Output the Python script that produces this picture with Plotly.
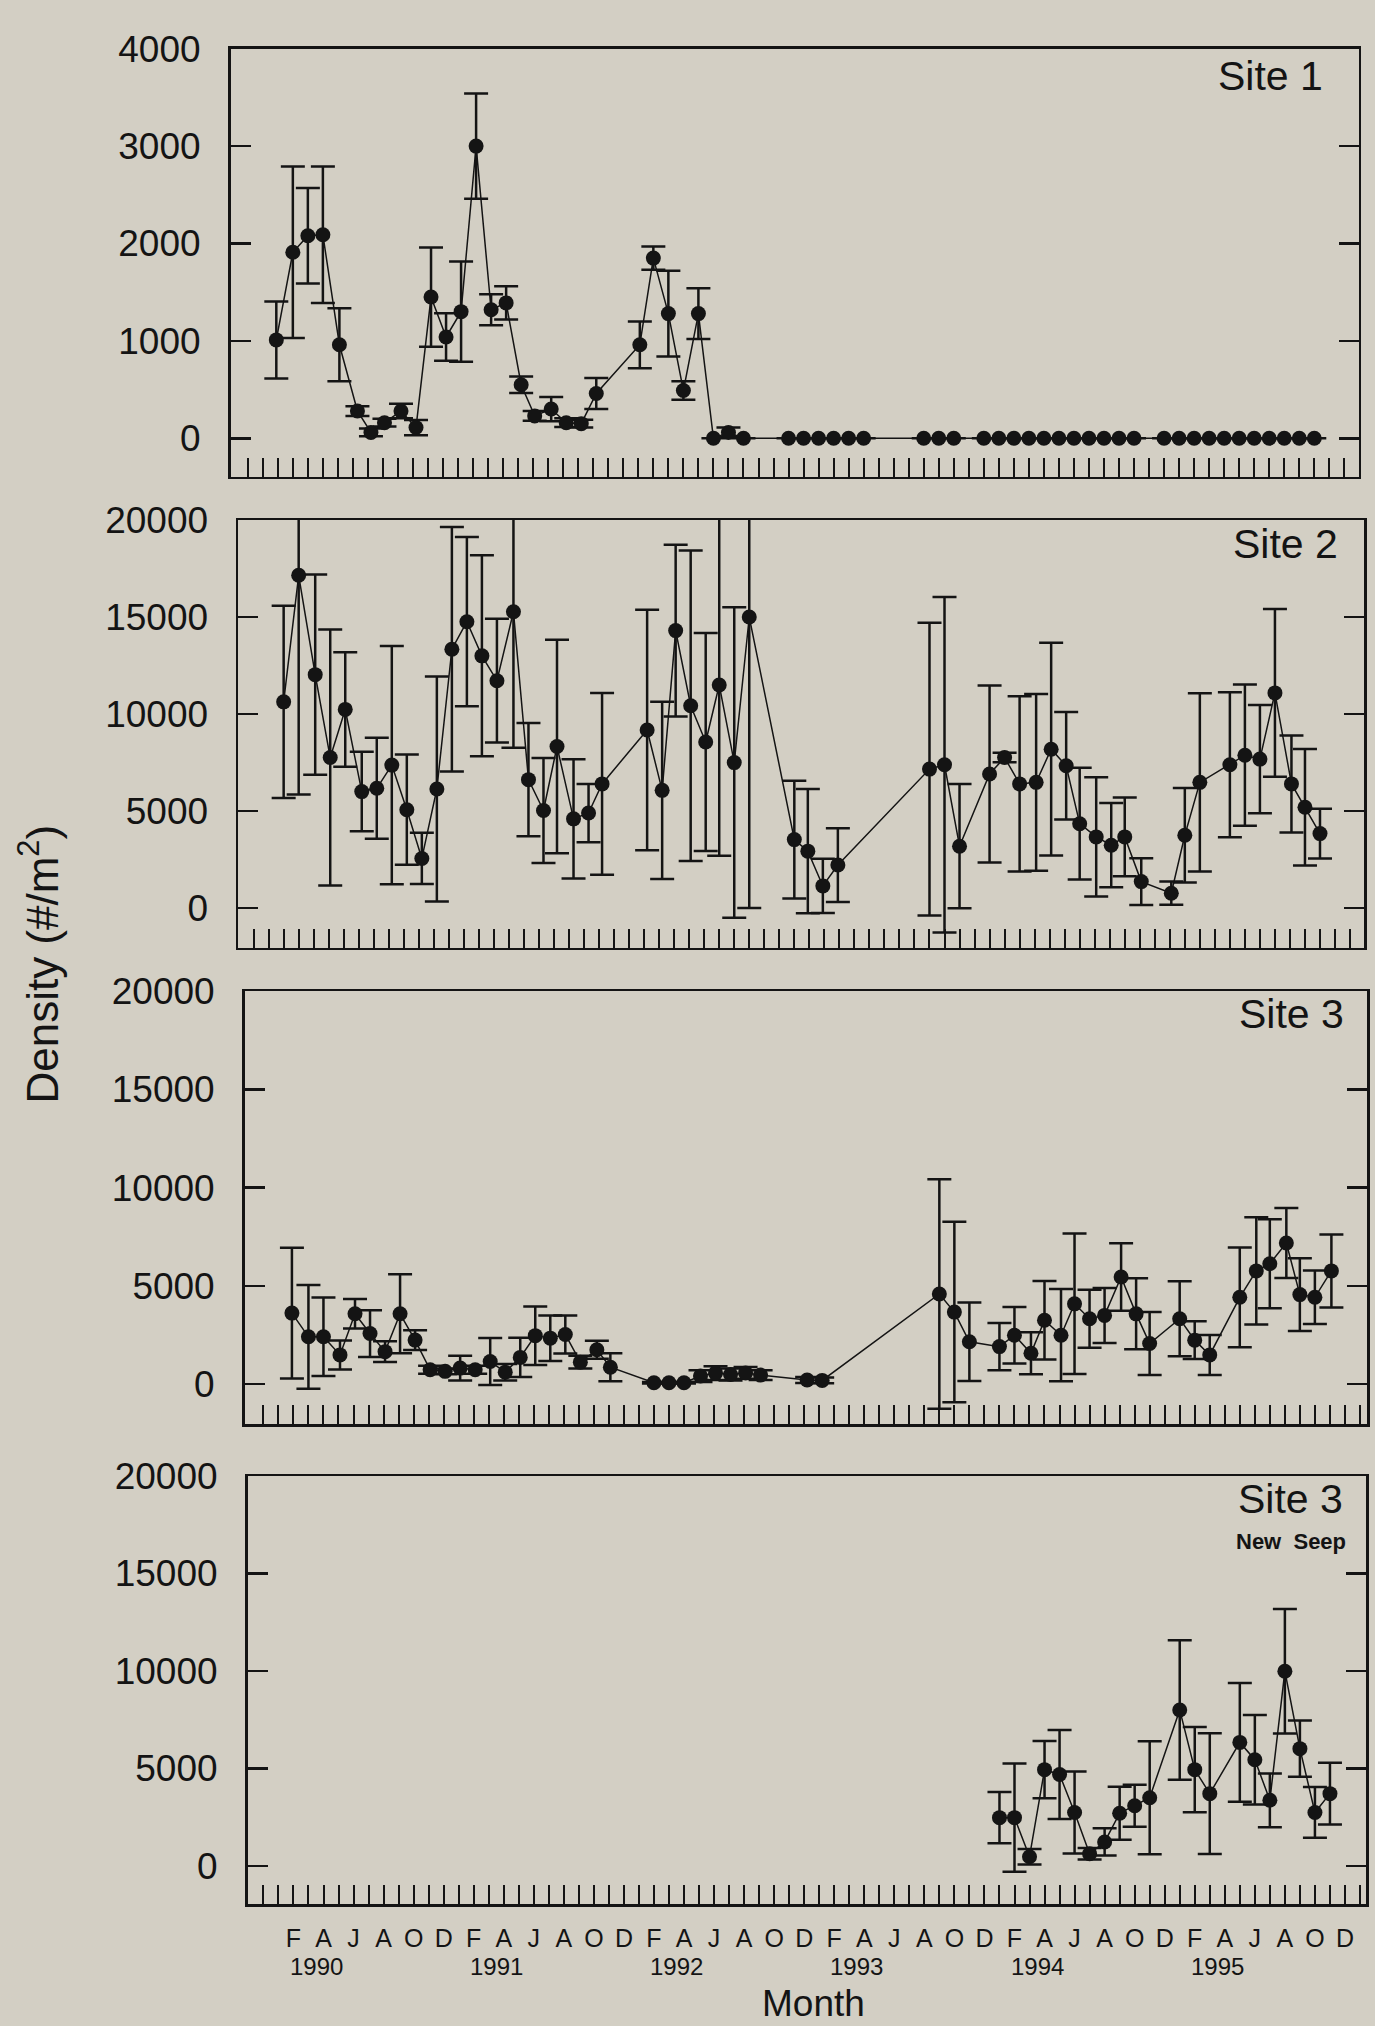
import plotly.graph_objects as go

# x = month index (0 = Jan 1990, 1 = Feb 1990, ...)
s1_month = [0.9, 2.0, 3.0, 4.0, 5.1, 6.3, 7.2, 8.1, 9.2, 10.2, 11.2, 12.2, 13.2, 14.2, 15.2, 16.2,
            17.2, 18.1, 19.2, 20.2, 21.2, 22.2, 25.1, 26.0, 27.0, 28.0, 29.0, 30.0, 31.0, 32.0,
            35, 36, 37, 38, 39, 40, 44, 45, 46,
            48, 49, 50, 51, 52, 53, 54, 55, 56, 57, 58,
            60, 61, 62, 63, 64, 65, 66, 67, 68, 69, 70]
s1_density = [1010, 1910, 2080, 2090, 960, 280, 60, 160, 280, 110, 1450, 1040, 1300, 3000, 1320, 1390,
              550, 230, 300, 160, 150, 460, 960, 1850, 1280, 490, 1280, 0, 60, 0,
              0, 0, 0, 0, 0, 0, 0, 0, 0,
              0, 0, 0, 0, 0, 0, 0, 0, 0, 0, 0,
              0, 0, 0, 0, 0, 0, 0, 0, 0, 0, 0]
s1_se = [395, 880, 490, 700, 375, 50, 40, 40, 75, 78, 510, 245, 515, 540, 160, 170,
         85, 50, 125, 45, 40, 160, 240, 120, 440, 95, 260, 0, 50, 0,
         0, 0, 0, 0, 0, 0, 0, 0, 0,
         0, 0, 0, 0, 0, 0, 0, 0, 0, 0, 0,
         0, 0, 0, 0, 0, 0, 0, 0, 0, 0, 0]

s2_month = [1.0, 2.0, 3.1, 4.1, 5.1, 6.2, 7.2, 8.2, 9.2, 10.2, 11.2, 12.2, 13.2, 14.2, 15.2, 16.3,
            17.3, 18.3, 19.2, 20.3, 21.3, 22.2, 25.2, 26.2, 27.1, 28.1, 29.1, 30.0, 31.0, 32.0,
            35.0, 35.9, 36.9, 37.9, 44.0, 45.0, 46.0,
            48.0, 49.0, 50.0, 51.1, 52.1, 53.1, 54.0, 55.1, 56.1, 57.0, 58.1,
            60.1, 61.0, 62.0, 64.0, 65.0, 66.0, 67.0, 68.1, 69.0, 70.0]
s2_density = [10630, 17150, 12030, 7760, 10240, 6005, 6175, 7370, 5070, 2560, 6140, 13340, 14760, 13000, 11720, 15270,
              6620, 5030, 8330, 4600, 4900, 6400, 9180, 6070, 14300, 10430, 8560, 11500, 7500, 15000,
              3530, 2935, 1143, 2218, 7165, 7387, 3190,
              6910, 7760, 6400, 6480, 8190, 7336, 4350, 3670, 3240, 3670, 1365,
              768, 3753, 6480, 7390, 7880, 7680, 11090, 6400, 5200, 3840]
s2_se = [4950, 11300, 5160, 6600, 2950, 2050, 2600, 6140, 2840, 1320, 5800, 6300, 4360, 5180, 3190, 7000,
         2920, 2700, 5500, 3070, 1500, 4680, 6200, 4570, 4430, 8000, 5620, 8800, 8000, 15000,
         3030, 3200, 1400, 1900, 7540, 8640, 3200,
         4560, 250, 4520, 4550, 5480, 2770, 2880, 3070, 2170, 2030, 1200,
         600, 2430, 4590, 3740, 3640, 2790, 4320, 2500, 3000, 1280]

s3_month = [0.9, 2.0, 3.0, 4.1, 5.1, 6.1, 7.1, 8.1, 9.1, 10.1, 11.1, 12.1, 13.1, 14.1, 15.1, 16.1,
            17.1, 18.1, 19.1, 20.1, 21.2, 22.1, 25.0, 26.0, 27.0, 28.1, 29.1, 30.1, 31.1, 32.1,
            35.2, 36.2, 44.0, 45.0, 46.0,
            48.0, 49.0, 50.1, 51.0, 52.1, 53.0, 54.0, 55.0, 56.1, 57.1, 58.0,
            60.0, 61.0, 62.0, 64.0, 65.1, 66.0, 67.1, 68.0, 69.0, 70.1]
s3_density = [3608, 2400, 2400, 1477, 3574, 2567, 1644, 3574, 2232, 720, 640, 805, 720, 1140, 600, 1350,
              2460, 2330, 2520, 1110, 1740, 850, 60, 60, 60, 400, 550, 480, 560, 450,
              200, 180, 4580, 3660, 2150,
              1900, 2480, 1560, 3240, 2480, 4080, 3320, 3490, 5450, 3570, 2060,
              3320, 2230, 1477, 4413, 5756, 6125, 7180, 4550, 4413, 5756]
s3_se = [3330, 2640, 2000, 740, 750, 1190, 530, 2010, 500, 200, 150, 630, 200, 1200, 420, 1000,
         1490, 1160, 970, 320, 460, 710, 40, 40, 40, 300, 350, 300, 300, 250,
         150, 150, 5850, 4600, 2000,
         1200, 1440, 1070, 2000, 2350, 3580, 1480, 1400, 1720, 1810, 1600,
         1910, 960, 1020, 2540, 2730, 2270, 1780, 1850, 1360, 1860]

s4_month = [48.0, 49.0, 50.0, 51.0, 52.0, 53.0, 54.0, 55.0, 56.0, 57.0, 58.0,
            60.0, 61.0, 62.0, 64.0, 65.0, 66.0, 67.0, 68.0, 69.0, 70.0]
s4_density = [2478, 2478, 473, 4938, 4692, 2743, 624, 1230, 2705, 3084, 3500,
              8003, 4938, 3708, 6338, 5449, 3368, 9990, 6017, 2743, 3708]
s4_se = [1320, 2780, 400, 1470, 2280, 2100, 300, 700, 1360, 1080, 2900,
         3580, 2190, 3100, 3050, 2300, 1380, 3190, 1440, 1300, 1580]

month_letters = ["J", "F", "M", "A", "M", "J", "J", "A", "S", "O", "N", "D"]
years = [1990, 1991, 1992, 1993, 1994, 1995]
panel_titles = ["Site 1", "Site 2", "Site 3", "Site 3"]

BG = "#d3cfc4"
INK = "#141414"
FONT = "Liberation Sans, Arial, sans-serif"
W, H = 1375, 2026

# panel frames in pixels: (left, right, top, bottom), x range, y range
panels = [
    dict(px=(230.5, 1358.6, 29, 461.5), xr=(-2.15, 72.95), yr=(-397, 4000), ticks=[0, 1000, 2000, 3000, 4000]),
    dict(px=(238, 1364, 505, 937), xr=(-2.04, 72.93), yr=(-2043, 20000), ticks=[0, 5000, 10000, 15000, 20000]),
    dict(px=(244.6, 1367, 981, 1418), xr=(-2.25, 72.47), yr=(-2042, 20000), ticks=[0, 5000, 10000, 15000, 20000]),
    dict(px=(247.5, 1366, 1470.6, 1903), xr=(-2.06, 72.4), yr=(-1964, 20000), ticks=[0, 5000, 10000, 15000, 20000]),
]
series = [(s1_month, s1_density, s1_se), (s2_month, s2_density, s2_se),
          (s3_month, s3_density, s3_se), (s4_month, s4_density, s4_se)]

fig = go.Figure()
tickvals = list(range(-1, 73))
ticktext = [month_letters[m % 12] if (m >= 1 and m % 2 == 1) else " " for m in tickvals]

for i, (p, (xm, yv, se)) in enumerate(zip(panels, series)):
    n = i + 1
    xs = "" if n == 1 else str(n)
    fig.add_trace(go.Scatter(
        x=xm, y=yv, mode="lines+markers",
        xaxis="x" + xs, yaxis="y" + xs,
        line=dict(color=INK, width=1.5),
        marker=dict(color=INK, size=15, symbol="circle"),
        error_y=dict(type="data", array=se, visible=True, color=INK, thickness=2.5, width=12),
        showlegend=False, hoverinfo="skip",
    ))
    l, r, t, b = p["px"]
    xdom = [l / W, r / W]
    ydom = [1 - b / H, 1 - t / H]
    fig.layout["xaxis" + xs] = dict(
        domain=xdom, anchor="y" + xs, range=list(p["xr"]),
        showline=True, linecolor=INK, linewidth=2.5, mirror=True,
        ticks="inside", ticklen=19, tickwidth=2, tickcolor=INK,
        tickmode="array", tickvals=tickvals, ticktext=ticktext,
        showticklabels=(n == 4), tickangle=0, ticklabelstandoff=10,
        tickfont=dict(family=FONT, size=25, color=INK),
        showgrid=False, zeroline=False, fixedrange=True,
    )
    fig.layout["yaxis" + xs] = dict(
        domain=ydom, anchor="x" + xs, range=list(p["yr"]),
        showline=True, linecolor=INK, linewidth=2.5, mirror="ticks",
        ticks="inside", ticklen=20, tickwidth=2.5, tickcolor=INK,
        tickmode="array", tickvals=p["ticks"], ticktext=[str(v) for v in p["ticks"]],
        ticklabelstandoff=20,
        tickfont=dict(family=FONT, size=37, color=INK),
        showgrid=False, zeroline=False, fixedrange=True,
    )

# site labels (right-aligned inside each frame)
site_pos = [(1325, 57), (1340, 529), (1346, 1004), (1345, 1494)]
for (xp, yp), txt in zip(site_pos, panel_titles):
    fig.add_annotation(x=xp / W, y=1 - yp / H, xref="paper", yref="paper",
                       text=txt, showarrow=False, xanchor="right", yanchor="middle",
                       font=dict(family=FONT, size=41, color=INK))
fig.add_annotation(x=1348 / W, y=1 - 1537 / H, xref="paper", yref="paper",
                   text="<b>New  Seep</b>", showarrow=False, xanchor="right", yanchor="middle",
                   font=dict(family=FONT, size=22, color=INK))

# year labels under the month letters
for k, yr in enumerate(years):
    fig.add_annotation(x=2.5 + 12 * k, y=1 - 1966 / H, xref="x4", yref="paper",
                       text=str(yr), showarrow=False, xanchor="center", yanchor="middle",
                       font=dict(family=FONT, size=24, color=INK))

fig.add_annotation(x=813 / W, y=1 - 2003 / H, xref="paper", yref="paper",
                   text="Month", showarrow=False, xanchor="center", yanchor="middle",
                   font=dict(family=FONT, size=37, color=INK))
fig.add_annotation(x=39 / W, y=1 - 954 / H, xref="paper", yref="paper",
                   text="Density (#/m<sup>2</sup>)", showarrow=False, textangle=-90,
                   xanchor="center", yanchor="middle",
                   font=dict(family=FONT, size=44, color=INK))

fig.update_layout(width=W, height=H, autosize=False,
                  margin=dict(l=0, r=0, t=0, b=0),
                  paper_bgcolor=BG, plot_bgcolor=BG)

fig.write_html("out.html",
               config={"displayModeBar": False, "staticPlot": True},
               post_script="document.body.style.margin='0';document.body.style.padding='0';"
                           "document.body.style.background='" + BG + "';")
